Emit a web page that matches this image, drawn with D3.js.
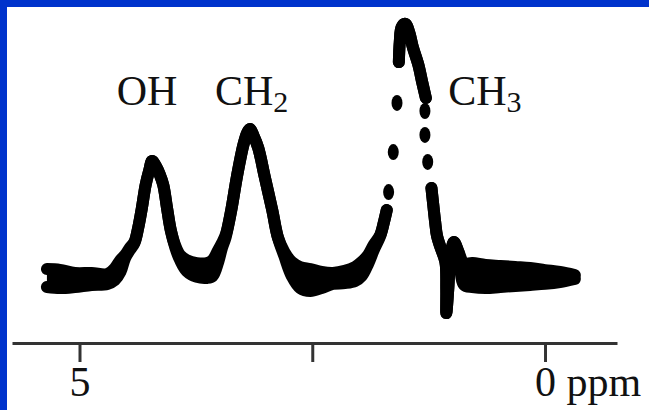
<!DOCTYPE html>
<html>
<head>
<meta charset="utf-8">
<script src="https://cdn.jsdelivr.net/npm/d3@7"></script>
<style>
  html, body { margin: 0; padding: 0; background: #0033cc; }
  svg { display: block; }
</style>
</head>
<body>
<div id="chart"></div>
<script>
// chemical shift (ppm) of each traced point, null = pen lifted
const tracePpm = [
  5.35, 5.21, 5.05, 4.87, 4.70, 4.62, 4.56, 4.51, 4.46, 4.41, 4.37, 4.33, 4.29, 4.25, 4.22,
  4.18, 4.14, 4.10, 4.06, 4.02, 3.97, 3.92, 3.85, 3.74, 3.63, 3.57, 3.51, 3.47, 3.43,
  3.37, 3.31, 3.24, 3.20, 3.17, 3.13, 3.08, 3.01, 2.93, 2.87, 2.80, 2.72, 2.63, 2.52,
  2.40, 2.28, 2.15, 2.04, 1.97, 1.90, 1.84, 1.77, 1.73, 1.70,
  null,
  1.57, 1.56, 1.54, 1.50, 1.46, 1.42, 1.36, 1.32, 1.28,
  null,
  1.22, 1.20, 1.18, 1.16, 1.12, 1.07, 1.06, 1.06, 1.04, 1.02, 0.98, 0.93, 0.87, 0.78,
  0.64, 0.48, 0.32, 0.16, 0.00, -0.16, -0.32
];
// upper and lower edge of the noisy trace (arbitrary intensity)
const traceUpper = [
  4.2, 3.9, 2.7, 2.7, 2.3, 4.6, 7.7, 9.6, 12.3, 14.6, 20.0, 27.7, 36.5, 42.3, 45.8,
  43.8, 40.8, 36.5, 27.7, 19.2, 13.1, 9.6, 7.7, 6.5, 6.5, 7.7, 11.5, 14.2, 17.3,
  26.9, 39.6, 51.9, 56.5, 58.1, 55.4, 50.8, 39.6, 26.9, 16.5, 10.8, 6.9, 5.0, 4.2,
  3.1, 2.7, 3.5, 5.0, 6.9, 9.6, 13.5, 17.3, 22.3, 26.9,
  null,
  83.8, 91.5, 97.3, 98.5, 95.4, 89.6, 82.7, 76.2, 70.0,
  null,
  35.4, 28.8, 22.3, 16.9, 12.3, 6.9, -3.8, -12.7, -3.8, 6.9, 14.6, 10.8, 6.5, 6.5,
  5.8, 5.4, 5.0, 4.6, 3.8, 3.1, 1.9
];
const traceLower = [
  -2.7, -3.1, -2.7, -1.9, -1.5, 0.0, 3.1, 8.5, 11.5, 14.2, 20.0, 27.7, 36.5, 42.3, 45.8,
  43.8, 40.8, 36.5, 27.7, 19.2, 12.3, 7.7, 3.5, 1.2, 0.8, 1.5, 6.9, 12.3, 16.5,
  26.9, 39.6, 51.9, 56.5, 58.1, 55.4, 50.8, 39.6, 26.9, 16.5, 9.2, 1.5, -3.1, -4.2,
  -3.1, -1.5, -1.2, -0.4, 1.5, 6.2, 11.5, 16.9, 22.3, 26.9,
  null,
  83.8, 91.5, 97.3, 98.5, 95.4, 89.6, 82.7, 76.2, 70.0,
  null,
  35.4, 28.8, 22.3, 16.9, 12.3, 6.9, -3.8, -12.7, -3.8, 6.9, 14.6, 10.8, -1.9, -2.7,
  -3.1, -2.7, -2.3, -1.9, -1.5, -0.8, 0.4
];
// isolated pen dots on the flanks of the CH3 peak
const dotPpm = [1.68, 1.63, 1.59, 1.29, 1.29, 1.26];
const dotInt = [33.8, 49.2, 68.1, 65.0, 55.8, 45.4];

const peakLabels = ["OH", "CH", "CH"];
const peakSubs = ["", "2", "3"];
const peakPpm = [4.60, 3.545, 1.04];

const tickPpm = [5, 2.5, 0];
const tickText = ["5", "", "0 ppm"];

const width = 649, height = 410;
const serif = "'Liberation Serif', 'Times New Roman', serif";

const svg = d3.select("#chart").append("svg")
  .attr("width", width)
  .attr("height", height);

svg.append("rect")
  .attr("x", 7).attr("y", 7)
  .attr("width", width - 7).attr("height", height - 7)
  .attr("fill", "#fff");

const x = d3.scaleLinear().domain([5.725, -0.773]).range([12, 617]);
const y = d3.scaleLinear().domain([0, 100]).range([280, 20]);

const pts = tracePpm.map((p, i) => ({ p, u: traceUpper[i], l: traceLower[i] }));
const ok = d => d.p != null;

const band = d3.area()
  .defined(ok)
  .x(d => x(d.p))
  .y0(d => y(d.l))
  .y1(d => y(d.u))
  .curve(d3.curveCatmullRom);

const edge = key => d3.line()
  .defined(ok)
  .x(d => x(d.p))
  .y(d => y(d[key]))
  .curve(d3.curveCatmullRom);

svg.append("path").attr("d", band(pts)).attr("fill", "#000");

["u", "l"].forEach(k => {
  svg.append("path")
    .attr("d", edge(k)(pts))
    .attr("fill", "none")
    .attr("stroke", "#000")
    .attr("stroke-width", 12)
    .attr("stroke-linecap", "round")
    .attr("stroke-linejoin", "round");
});

svg.selectAll("ellipse.dot")
  .data(dotPpm)
  .join("ellipse")
  .attr("class", "dot")
  .attr("cx", d => x(d))
  .attr("cy", (d, i) => y(dotInt[i]))
  .attr("rx", 5.5)
  .attr("ry", 8)
  .attr("fill", "#000");

// peak labels
const lab = svg.selectAll("text.peak")
  .data(peakLabels)
  .join("text")
  .attr("class", "peak")
  .attr("x", (d, i) => x(peakPpm[i]))
  .attr("y", 105)
  .attr("font-family", serif)
  .attr("font-size", 42)
  .attr("fill", "#111");
lab.append("tspan").text(d => d);
lab.append("tspan")
  .attr("font-size", 30)
  .attr("dy", 7)
  .text((d, i) => peakSubs[i]);

// axis
const axis = d3.axisBottom(x)
  .tickValues(tickPpm)
  .tickFormat((d, i) => tickText[i])
  .tickSize(19)
  .tickSizeOuter(0)
  .tickPadding(4);

const gx = svg.append("g")
  .attr("transform", "translate(0,343)")
  .call(axis);

gx.select(".domain").attr("stroke", "#333").attr("stroke-width", 3);
gx.selectAll(".tick line").attr("stroke", "#333").attr("stroke-width", 3);
gx.selectAll(".tick text")
  .attr("font-family", serif)
  .attr("font-size", 42)
  .attr("fill", "#111")
  .filter((d, i) => i === 2)
  .attr("text-anchor", "start")
  .attr("dx", "-0.25em");
</script>
</body>
</html>
